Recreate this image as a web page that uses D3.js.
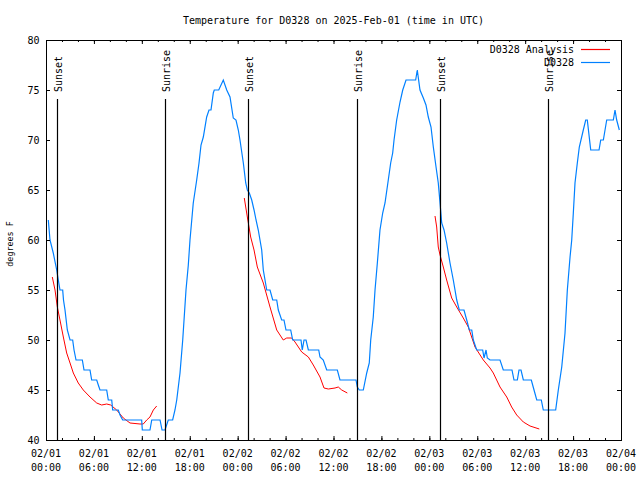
<!DOCTYPE html>
<html>
<head>
<meta charset="utf-8">
<script src="https://cdn.jsdelivr.net/npm/d3@7"></script>
<style>
  html, body { margin: 0; padding: 0; background: #fff; }
  svg { display: block; }
  text { font-family: "DejaVu Sans Mono", monospace; fill: #000; }
</style>
</head>
<body>
<svg id="chart" width="640" height="480"></svg>
<script>
// ---------- data (hours since 02/01 00:00 UTC) ----------
const blueHours = [0.29,0.50,0.91,1.34,1.54,1.75,2.09,2.19,2.38,2.67,3.01,3.34,3.51,3.76,4.55,4.76,5.51,5.72,6.35,6.55,6.76,7.60,7.80,8.23,8.35,9.05,9.27,9.60,11.98,12.06,13.02,13.24,14.28,14.53,14.90,15.31,15.86,16.15,16.37,16.78,17.12,17.53,17.82,18.03,18.44,18.87,19.16,19.41,19.70,20.12,20.41,20.66,20.95,21.07,21.63,22.20,22.63,23.04,23.45,23.79,24.08,24.29,24.71,25.01,25.21,25.46,25.76,26.05,26.30,26.58,27.01,27.21,27.64,28.05,28.39,28.89,29.09,29.51,29.80,30.05,30.64,30.89,31.93,32.09,32.31,32.56,32.85,34.15,34.31,34.72,35.15,36.48,36.81,38.82,38.98,39.23,39.73,40.16,40.48,40.66,40.98,41.20,41.49,41.82,42.16,42.45,42.86,43.16,43.41,43.58,43.91,44.33,44.67,45.08,46.29,46.49,46.83,47.25,47.58,47.87,48.21,48.50,48.84,49.12,49.34,49.55,49.84,50.17,50.59,51.00,51.43,51.75,52.34,52.68,53.01,53.31,53.51,53.93,54.68,54.85,55.10,55.26,55.60,56.85,57.26,58.35,58.60,59.02,59.23,59.48,59.77,60.77,61.11,61.45,62.02,62.27,63.82,64.15,64.58,64.99,65.28,65.62,65.83,66.03,66.24,66.53,66.78,67.28,67.58,67.78,68.21,69.25,69.46,69.79,70.21,71.04,71.25,71.46,71.79];
const blueTemps = [62,60,58.7,57,56,55,55,54,53,51,50,50,49,48,48,47,47,46,46,45.5,45,45,44,44,43,43,42.5,42,42,41,41,42,42,41,41,42,42,43,44,46.7,50,55,57.5,60,63.7,66,67.7,69.5,70.3,72.3,73,73,74.7,75,75,76,75,74.3,72.2,72,71,70,67.7,65.7,65,64.7,64,63,62,61,59,57,55,55,54,54,53,52,52,51,51,50,50,49,50,50,49,49,48.3,48,47,47,46,46,45.3,45,45,46.7,47.7,50,52.3,55,57.7,61,62.7,63.7,66,67.7,68.7,70,72,73.8,75,76,76,77,75,74.2,73.5,72.3,71.3,69.3,67.3,65.7,63.7,61.7,61,59.7,57.7,56,54,53,53,52,51,51,50,49,49,48.2,49,48.2,48,48,47,47,46,46,47,47,46,46,45,44,44,43,43,45,47.3,50.7,55,58.3,60,62.7,65.7,67.7,69.3,71,72,72,69,69,70,70,72,72,73,72,71];

// Analysis series (null separates the three nightly runs)
const analysisHours = [0.79,1.13,1.42,1.75,2.17,2.59,3.01,3.42,4.04,4.67,5.51,6.35,6.97,7.60,8.10,8.85,9.68,10.52,11.77,12.18,12.61,13.02,13.44,13.86,
  null,
  24.83,25.21,25.63,26.05,26.46,27.21,28.05,28.89,29.71,30.14,30.77,31.18,32.02,32.85,33.47,34.31,34.81,35.35,36.19,36.60,37.03,37.73,
  null,
  48.71,48.92,49.12,49.34,49.75,50.17,50.80,51.43,52.25,52.88,53.72,54.76,55.60,56.01,56.85,57.69,58.31,58.94,59.77,60.61,61.77];
const analysisTemps = [56.3,55,53.3,52,50.3,48.7,47.7,46.7,45.7,45,44.3,43.7,43.5,43.6,43.5,43,42.2,41.7,41.6,41.6,42,42.3,43,43.4,
  null,
  64.2,62.3,60.3,59,57.3,55.7,53.3,51,50,50.2,50.2,49.8,48.8,48.3,47.5,46.3,45.2,45.1,45.2,45.3,45,44.7,
  null,
  62.4,61.3,59.3,58.5,57.3,56,54.2,53.3,52.2,51.3,49.3,48,47.2,46.7,45.3,44.3,43.3,42.5,41.8,41.4,41.1];

const sunHours  = [1.42, 14.94, 25.33, 38.98, 49.37, 62.90];
const sunLabels = ["Sunset","Sunrise","Sunset","Sunrise","Sunset","Sunrise"];

const xTickHours = [0,6,12,18,24,30,36,42,48,54,60,66,72];
const xTickDates = ["02/01","02/01","02/01","02/01","02/02","02/02","02/02","02/02","02/03","02/03","02/03","02/03","02/04"];
const xTickTimes = ["00:00","06:00","12:00","18:00","00:00","06:00","12:00","18:00","00:00","06:00","12:00","18:00","00:00"];
const xMinorHours = d3.range(0, 73, 2);
const yTicks = [40,45,50,55,60,65,70,75,80];

const seriesNames = ["D0328 Analysis", "D0328"];
const seriesColors = ["#ff0000", "#0080ff"];
const titleText = "Temperature for D0328 on 2025-Feb-01 (time in UTC)";
const yLabel = "degrees F";

// ---------- layout ----------
const L = 46, R = 621, T = 40, B = 440;
const svg = d3.select("#chart");
const x = d3.scaleLinear().domain([0, 72]).range([L, R]);
const y = d3.scaleLinear().domain([40, 80]).range([B, T]);

// data lines
const blueData = blueHours.map((h, i) => [h, blueTemps[i]]);
const redData = analysisHours.map((h, i) => [h, analysisTemps[i]]);
const line = d3.line().defined(d => d[0] != null && d[1] != null)
  .x(d => x(d[0])).y(d => y(d[1]));

svg.append("path").datum(redData).attr("d", line)
  .attr("fill", "none").attr("stroke", seriesColors[0]).attr("stroke-width", 1);
svg.append("path").datum(blueData).attr("d", line)
  .attr("fill", "none").attr("stroke", seriesColors[1]).attr("stroke-width", 1.2);

// sunrise / sunset markers
const sunG = svg.append("g");
sunHours.forEach((h, i) => {
  const xp = Math.round(x(h)) + 0.5;
  sunG.append("line").attr("x1", xp).attr("x2", xp).attr("y1", 99).attr("y2", B)
    .attr("stroke", "#000").attr("stroke-width", 1.2);
  sunG.append("text")
    .attr("transform", `translate(${xp + 4.5},92) rotate(-90)`)
    .attr("font-size", "10px").attr("text-anchor", "start")
    .text(sunLabels[i]);
});

// axes (ticks inward, mirrored)
function cleanAxis(g) { g.select(".domain").remove(); g.selectAll("line").attr("stroke", "#000"); g.selectAll("text").remove(); }
svg.append("g").attr("transform", `translate(0,${B})`)
  .call(d3.axisBottom(x).tickValues(xTickHours).tickSize(-4).tickFormat("")).call(cleanAxis);
svg.append("g").attr("transform", `translate(0,${B})`)
  .call(d3.axisBottom(x).tickValues(xMinorHours).tickSize(-2).tickFormat("")).call(cleanAxis);
svg.append("g").attr("transform", `translate(0,${T})`)
  .call(d3.axisTop(x).tickValues(xTickHours).tickSize(-4).tickFormat("")).call(cleanAxis);
svg.append("g").attr("transform", `translate(0,${T})`)
  .call(d3.axisTop(x).tickValues(xMinorHours).tickSize(-2).tickFormat("")).call(cleanAxis);
svg.append("g").attr("transform", `translate(${L},0)`)
  .call(d3.axisLeft(y).tickValues(yTicks).tickSize(-4).tickFormat("")).call(cleanAxis);
svg.append("g").attr("transform", `translate(${R},0)`)
  .call(d3.axisRight(y).tickValues(yTicks).tickSize(-4).tickFormat("")).call(cleanAxis);

// frame
svg.append("rect").attr("x", L + 0.5).attr("y", T + 0.5).attr("width", R - L).attr("height", B - T)
  .attr("fill", "none").attr("stroke", "#000").attr("stroke-width", 1);

// tick labels
xTickHours.forEach((h, i) => {
  const t = svg.append("text").attr("font-size", "10px").attr("text-anchor", "middle");
  t.append("tspan").attr("x", x(h)).attr("y", 457).text(xTickDates[i]);
  t.append("tspan").attr("x", x(h)).attr("y", 471).text(xTickTimes[i]);
});
yTicks.forEach(v => {
  svg.append("text").attr("x", 39.5).attr("y", y(v) + 3.6)
    .attr("font-size", "10px").attr("text-anchor", "end").text(v);
});

// title and axis label
svg.append("text").attr("x", (L + R) / 2).attr("y", 24)
  .attr("font-size", "10px").attr("text-anchor", "middle").text(titleText);
svg.append("text").attr("transform", "translate(13,244) rotate(-90)")
  .attr("font-size", "8.4px").attr("text-anchor", "middle").text(yLabel);

// legend
seriesNames.forEach((n, i) => {
  const ly = 49.5 + i * 13;
  svg.append("text").attr("x", 574).attr("y", ly + 3.6)
    .attr("font-size", "10px").attr("text-anchor", "end").text(n);
  svg.append("line").attr("x1", 581).attr("x2", 610).attr("y1", ly).attr("y2", ly)
    .attr("stroke", seriesColors[i]).attr("stroke-width", 1.2);
});
</script>
</body>
</html>
